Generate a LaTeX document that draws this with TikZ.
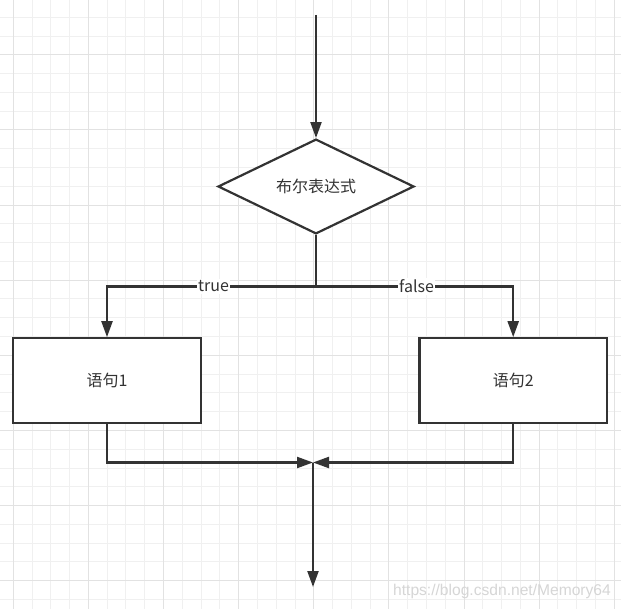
\documentclass[tikz,border=0pt]{standalone}
\usepackage{fontspec}
\setmainfont{Noto Sans CJK SC}
\newfontfamily\wmfont{Liberation Sans}
\usetikzlibrary{shapes.geometric,arrows.meta}
\definecolor{edge}{HTML}{333333}
\definecolor{txt}{HTML}{333333}
\definecolor{gminor}{HTML}{F0F0F0}
\definecolor{gmajor}{HTML}{E2E2E2}
\definecolor{wm}{HTML}{D6D6D6}
\tikzset{
  flow/.style={draw=edge, line width=2.2pt, -{Triangle[length=16pt,width=11pt]}},
  plainline/.style={draw=edge, line width=2.2pt},
  decision/.style={diamond, draw=edge, line width=2.2pt, fill=white, minimum width=196pt, minimum height=93pt, inner sep=0pt, font=\fontsize{16}{19}\selectfont, text=txt},
  process/.style={rectangle, draw=edge, line width=2.2pt, fill=white, minimum width=187.5pt, minimum height=84.5pt, inner sep=0pt, font=\fontsize{16}{19}\selectfont, text=txt},
  lbl/.style={fill=white, inner sep=1.5pt, font=\fontsize{16}{19}\selectfont, text=txt},
  gridminor/.style={draw=gminor, line width=1pt},
  gridmajor/.style={draw=gmajor, line width=1pt},
}
\begin{document}
\begin{tikzpicture}[x=1pt,y=-1pt]
\useasboundingbox (0,0) rectangle (621,609);
\fill[white] (0,0) rectangle (621,609);
% grid
\foreach \k in {0,...,32} \draw[gridminor] ({13.3+\k*18.78},0) -- ({13.3+\k*18.78},609);
\foreach \k in {0,...,31} \draw[gridminor] (0,{17.3+\k*18.78}) -- (621,{17.3+\k*18.78});
\foreach \k in {0,4,...,32} \draw[gridmajor] ({13.3+\k*18.78},0) -- ({13.3+\k*18.78},609);
\foreach \k in {2,6,...,30} \draw[gridmajor] (0,{17.3+\k*18.78}) -- (621,{17.3+\k*18.78});
% watermark
\node[anchor=base east, inner sep=0pt, font=\wmfont\fontsize{15.6}{18}\selectfont, text=wm] (wm) at (611,595.5) {https://blog.csdn.net/Memory64};
% nodes
\coordinate (start) at (316,15);
\node[decision] (cond) at (316,186.5) {布尔表达式};
\node[process] (s1) at (107,380.5) {语句1};
\node[process] (s2) at (513.2,380.5) {语句2};
\coordinate (split) at (316,286.5);
\coordinate (merge) at (313,462.5);
\coordinate (end) at (313,587);
% connectors
\draw[flow] (start) -- (cond.north);
\draw[plainline] (cond.south) -- (split);
\draw[flow] (split) -- node[lbl, pos=0.49] {true} (split -| s1.north) -- (s1.north);
\draw[flow] (split) -- node[lbl, pos=0.51] {false} (split -| s2.north) -- (s2.north);
\draw[flow] (s1.south) -- (s1.south |- merge) -- (merge);
\draw[flow] (s2.south) -- (s2.south |- merge) -- (merge);
\draw[flow] (merge) -- (end);
\end{tikzpicture}
\end{document}
